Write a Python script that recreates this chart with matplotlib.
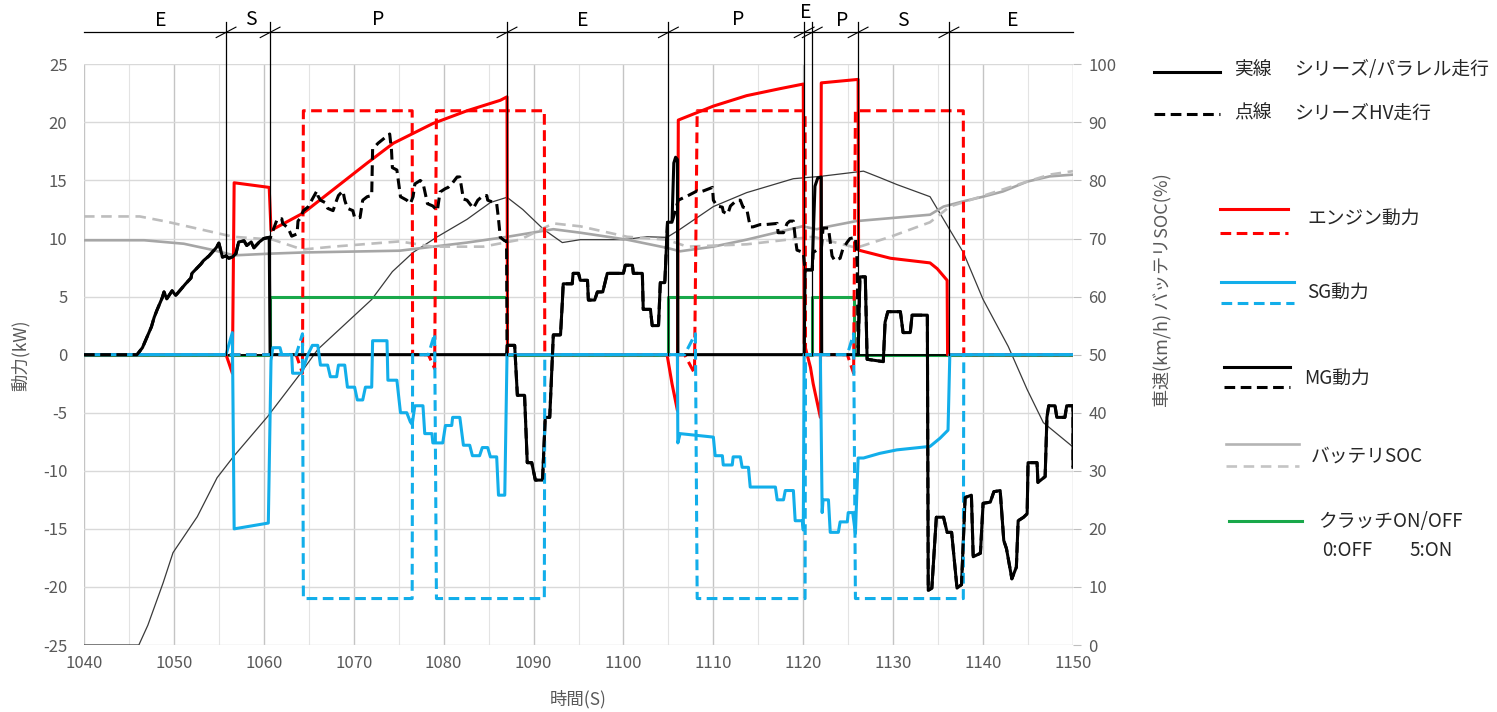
import matplotlib.pyplot as plt
from matplotlib.lines import Line2D

plt.rcParams['font.family'] = ['Noto Sans CJK JP', 'DejaVu Sans']
plt.rcParams['axes.unicode_minus'] = False

# ---- data (time in s, power in kW, speed km/h, SOC %) ----
eng_sp_t = [1040, 1055.8, 1056.5, 1056.7, 1060.6, 1060.8, 1064.4, 1071.5, 1074.4, 1078.8, 1082.6,
            1086.3, 1087.05, 1087.1, 1104.85, 1105.4, 1106.0, 1106.1, 1110.0, 1113.7, 1117.4,
            1120.0, 1120.1, 1120.8, 1121.1, 1121.9, 1122.0, 1126.1, 1126.15, 1129.7, 1134.1,
            1134.9, 1136.0, 1136.05, 1150]
eng_sp_kw = [0, 0, -1.6, 14.8, 14.4, 10.7, 12.2, 16.5, 18.2, 19.9, 21.0,
             21.9, 22.2, 0, 0, -2.5, -4.8, 20.2, 21.4, 22.3, 22.9,
             23.3, 1.0, -1.1, -2.5, -5.4, 23.4, 23.7, 9.0, 8.3, 7.9,
             7.4, 6.4, 0, 0]

eng_hv_t = [1040, 1063.6, 1064.3, 1064.4, 1076.5, 1076.55, 1078.3, 1079.0, 1079.2, 1091.2, 1091.25,
            1106.8, 1107.9, 1108.2, 1120.2, 1120.25, 1124.9, 1125.6, 1125.8, 1137.8, 1137.85, 1150]
eng_hv_kw = [0, 0, -1.6, 21, 21, 0, 0, -1.2, 21, 21, 0,
             0, -1.6, 21, 21, 0, 0, -1.6, 21, 21, 0, 0]

sg_sp_t = [1040, 1055.8, 1056.5, 1056.7, 1060.5, 1060.8, 1061.0, 1061.8, 1062.0, 1063.1, 1063.2,
           1064.2, 1064.9, 1065.4, 1066.0, 1066.3, 1067.1, 1067.4, 1068.1, 1068.3, 1069.0,
           1069.3, 1070.1, 1070.4, 1071.0, 1071.3, 1072.0, 1072.1, 1073.7, 1073.8, 1074.8,
           1075.2, 1075.9, 1076.3, 1076.5, 1076.8, 1077.7, 1077.9, 1078.7, 1078.8, 1079.9,
           1080.2, 1080.9, 1081.0, 1081.8, 1082.2, 1082.9, 1083.2, 1084.0, 1084.3, 1084.9,
           1085.2, 1085.9, 1086.1, 1086.8, 1087.05, 1106.0, 1106.05, 1106.3, 1110.0, 1110.2,
           1111.0, 1111.1, 1112.1, 1112.2, 1113.0, 1113.2, 1113.9, 1114.1, 1116.9, 1117.1,
           1117.8, 1118.0, 1118.9, 1119.1, 1119.9, 1120.0, 1120.1, 1121.9, 1122.1, 1122.2,
           1122.8, 1123.0, 1123.9, 1124.1, 1124.9, 1125.0, 1125.5, 1125.8, 1126.1, 1126.7,
           1128.5, 1130.4, 1134.1, 1135.2, 1136.1, 1136.3, 1150]
sg_sp_kw = [0, 0, 1.9, -15.0, -14.5, -0.5, 0.6, 0.6, 0, 0, -1.6,
            -1.6, 0, 0.8, 0.8, -0.9, -0.9, -1.9, -1.9, -0.9, -0.9,
            -2.8, -2.8, -3.9, -3.9, -2.8, -2.8, 1.2, 1.2, -2.2, -2.2,
            -5.0, -5.0, -5.8, -6.0, -4.4, -4.4, -6.8, -6.8, -7.6, -7.6,
            -6.1, -6.1, -5.4, -5.4, -7.8, -7.8, -8.7, -8.7, -8.0, -8.0,
            -8.8, -8.8, -12.1, -12.1, 0, 0, -7.6, -6.8, -7.1, -8.7,
            -8.7, -9.5, -9.5, -8.8, -8.8, -9.7, -9.7, -11.4, -11.4, -12.5,
            -12.5, -11.7, -11.7, -14.3, -14.3, -15.1, 0, 0, -13.6, -12.5,
            -12.5, -15.3, -15.3, -14.4, -14.4, -13.6, -13.6, -15.4, -8.9, -8.9,
            -8.5, -8.2, -7.9, -7.2, -6.5, 0, 0]

sg_hv_t = [1040, 1063.6, 1064.3, 1064.4, 1076.5, 1076.55, 1078.3, 1079.0, 1079.2, 1091.2, 1091.25,
           1106.8, 1108.0, 1108.2, 1120.2, 1120.25, 1124.9, 1125.6, 1125.8, 1137.8, 1137.85, 1150]
sg_hv_kw = [0, 0, 1.8, -21, -21, 0, 0, 1.8, -21, -21, 0,
            0, 1.8, -21, -21, 0, 0, 1.8, -21, -21, 0, 0]

# MG power: pieces shared by both runs, and pieces for each run
mg_ev1_t = [1040, 1045.9, 1046.5, 1047.0, 1047.5, 1047.8, 1048.1, 1048.7, 1048.9, 1049.2, 1049.8,
            1050.2, 1051.3, 1051.9, 1052.0, 1052.5, 1053.0, 1053.3, 1053.9, 1054.7, 1055.0,
            1055.2, 1055.4, 1055.8, 1056.1, 1056.5, 1056.9, 1057.2, 1057.8, 1058.1, 1058.6,
            1058.9, 1059.5, 1060.0, 1060.6]
mg_ev1_kw = [0, 0, 0.6, 1.5, 2.4, 3.2, 3.8, 4.9, 5.4, 4.8, 5.5,
             5.1, 6.1, 6.6, 7.0, 7.4, 7.8, 8.1, 8.5, 9.2, 9.6,
             9.0, 8.4, 8.5, 8.3, 8.4, 8.7, 9.7, 9.8, 9.4, 9.7,
             9.2, 9.7, 10.0, 10.1]
mg_par1_t = [1060.7, 1087.0]
mg_par1_kw = [0, 0]
mg_ser1_t = [1060.7, 1061.5, 1062.0, 1062.1, 1062.7, 1063.1, 1063.7, 1063.8, 1064.0, 1064.4, 1064.9,
             1065.4, 1065.9, 1066.0, 1066.3, 1066.8, 1067.1, 1067.7, 1068.1, 1068.3, 1068.8,
             1069.0, 1069.3, 1069.9, 1070.1, 1070.7, 1071.0, 1071.5, 1072.0, 1072.1, 1072.7,
             1073.5, 1074.0, 1074.2, 1074.3, 1074.8, 1075.2, 1075.9, 1076.3, 1076.6, 1076.8,
             1077.4, 1077.7, 1078.2, 1078.8, 1079.3, 1079.6, 1080.2, 1080.5, 1081.0, 1081.5,
             1081.8, 1082.2, 1082.6, 1082.9, 1083.3, 1083.8, 1084.4, 1084.8, 1084.9, 1085.9,
             1086.1, 1086.3, 1086.8, 1087.0]
mg_ser1_kw = [10.0, 11.7, 11.7, 11.3, 10.9, 10.2, 10.4, 11.5, 11.7, 12.4, 12.7,
              13.4, 14.1, 13.7, 13.3, 13.1, 12.6, 12.4, 13.3, 13.7, 14.1,
              13.3, 12.6, 12.4, 11.8, 11.8, 13.3, 13.6, 13.7, 17.7, 18.2,
              18.7, 19.0, 17.6, 16.1, 15.9, 13.6, 13.3, 13.0, 13.6, 14.7,
              15.0, 14.8, 13.0, 12.8, 12.4, 14.0, 14.3, 14.4, 14.8, 15.3,
              15.3, 13.4, 13.3, 13.0, 12.6, 13.3, 13.7, 13.7, 13.3, 13.0,
              11.7, 10.1, 9.8, 9.8]
mg_ev2_t = [1087.05, 1087.9, 1088.2, 1089.0, 1089.3, 1089.8, 1090.2, 1091.0, 1091.3, 1091.8, 1092.1,
            1092.2, 1093.0, 1093.2, 1093.3, 1094.3, 1094.4, 1095.0, 1095.2, 1096.0, 1096.1,
            1096.8, 1097.1, 1097.7, 1098.2, 1100.0, 1100.2, 1101.0, 1101.1, 1102.1, 1102.2,
            1103.0, 1103.2, 1103.9, 1104.1, 1104.6, 1104.9, 1105.4]
mg_ev2_kw = [0.8, 0.8, -3.5, -3.5, -9.3, -9.3, -10.8, -10.8, -5.4, -5.4, 0,
             1.7, 1.7, 4.5, 6.1, 6.1, 7.0, 7.0, 6.4, 6.4, 4.7,
             4.7, 5.4, 5.4, 7.0, 7.0, 7.7, 7.7, 7.0, 7.0, 3.9,
             3.9, 2.5, 2.5, 6.2, 6.2, 11.4, 11.4]
mg_par2_t = [1105.5, 1105.6, 1105.8, 1106.0, 1106.05, 1120.1]
mg_par2_kw = [14.0, 16.5, 17.0, 16.8, 0, 0]
mg_ser2_t = [1106.1, 1107.2, 1108.2, 1108.5, 1108.9, 1109.9, 1110.0, 1110.4, 1111.0, 1111.1, 1111.6,
             1111.9, 1112.6, 1113.0, 1113.3, 1113.7, 1114.1, 1114.4, 1115.2, 1115.8, 1117.1,
             1117.2, 1117.8, 1118.2, 1118.5, 1118.9, 1119.1, 1119.3, 1120.0]
mg_ser2_kw = [13.3, 13.7, 14.1, 14.0, 14.1, 14.4, 13.3, 12.8, 12.7, 12.3, 12.1,
              12.8, 13.3, 13.3, 12.7, 12.6, 11.0, 11.0, 11.2, 11.2, 11.3,
              10.5, 10.5, 11.3, 11.5, 11.5, 10.1, 9.0, 8.8]
mg_ev3_t = [1120.2, 1121.0]
mg_ev3_kw = [7.3, 7.3]
mg_par3_t = [1121.1, 1121.3, 1121.6, 1122.0, 1122.05, 1126.0]
mg_par3_kw = [10.0, 14.5, 15.2, 15.3, 0, 0]
mg_ser3_t = [1121.1, 1121.5, 1122.0, 1122.2, 1122.8, 1123.2, 1123.5, 1124.1, 1124.4, 1124.9, 1125.2,
             1125.8, 1126.0]
mg_ser3_kw = [8.8, 9.0, 9.0, 10.9, 10.9, 8.5, 8.1, 8.3, 9.1, 9.7, 10.0,
              10.1, 8.0]
mg_ev4_t = [1126.1, 1126.3, 1126.9, 1127.1, 1128.9, 1129.1, 1129.4, 1130.8, 1131.1, 1131.9, 1132.1,
            1133.8, 1133.9, 1134.3, 1134.8, 1135.6, 1136.0, 1136.5, 1137.1, 1137.6, 1138.0,
            1138.7, 1138.9, 1139.7, 1140.0, 1140.8, 1141.2, 1141.9, 1142.3, 1142.6, 1143.2,
            1143.7, 1143.9, 1144.5, 1144.9, 1145.0, 1146.0, 1146.1, 1146.9, 1147.1, 1147.3,
            1148.0, 1148.2, 1149.1, 1149.3, 1150, 1150]
mg_ev4_kw = [0, 6.7, 6.7, -0.4, -0.6, 2.8, 3.7, 3.7, 1.9, 1.9, 3.4,
             3.4, -20.3, -20.1, -14.0, -14.0, -15.3, -15.3, -20.1, -19.8, -12.3,
             -12.1, -17.4, -17.1, -12.8, -12.7, -11.8, -11.7, -16.0, -16.7, -19.3,
             -18.3, -14.3, -14.0, -13.7, -9.3, -9.3, -11.0, -10.5, -5.4, -4.4,
             -4.4, -5.4, -5.4, -4.4, -4.4, -9.7]

clutch_t = [1040, 1060.7, 1060.7, 1087.05, 1087.05, 1105.0, 1105.0, 1120.1, 1120.1, 1121.0, 1121.0,
            1125.6, 1125.6, 1150]
clutch_kw = [0, 0, 5, 5, 0, 0, 5, 5, 0, 0, 5, 5, 0, 0]

speed_t = [1040, 1046.1, 1047.1, 1048.8, 1049.9, 1052.6, 1054.8, 1056.6, 1060.4, 1064.0, 1066.0,
           1072.0, 1074.3, 1076.6, 1079.3, 1082.6, 1085.2, 1087.05, 1088.8, 1091.1, 1093.2,
           1095.2, 1100.0, 1102.6, 1104.85, 1106.3, 1110.0, 1113.7, 1118.9, 1121.9, 1126.7,
           1128.5, 1130.4, 1134.1, 1137.8, 1140.0, 1142.8, 1144.9, 1146.7, 1150]
speed_kmh = [0, 0, 3.4, 10.7, 15.9, 22.1, 28.8, 32.4, 39.3, 46.6, 50.9,
             59.5, 64.3, 67.6, 70.3, 73.3, 76.2, 77.1, 75.0, 71.6, 69.3,
             69.8, 69.8, 70.3, 70.2, 71.6, 75.5, 77.9, 80.3, 80.7, 81.6,
             80.5, 79.3, 77.2, 67.6, 59.5, 51.4, 44.0, 38.3, 34.1]

soc_sp_t = [1040, 1046.7, 1051.1, 1054.1, 1056.7, 1060.8, 1064.5, 1075.1, 1082.6, 1087.1, 1092.2,
            1095.2, 1100.4, 1104.8, 1106.3, 1110.0, 1113.7, 1119.9, 1121.5, 1122.9, 1125.9,
            1130.4, 1134.1, 1135.6, 1137.8, 1140.0, 1142.2, 1144.9, 1147.4, 1150]
soc_sp = [69.7, 69.7, 69.1, 68.1, 67.1, 67.4, 67.6, 67.9, 69.3, 70.3, 71.6,
          71.0, 69.8, 68.4, 67.8, 68.6, 69.8, 72.1, 71.6, 72.1, 73.0,
          73.6, 74.1, 75.5, 76.4, 77.2, 78.1, 79.8, 80.7, 81.0]
soc_hv_t = [1040, 1046.2, 1049.2, 1052.9, 1056.6, 1061.0, 1064.3, 1067.7, 1075.1, 1078.8, 1084.4,
            1088.5, 1092.2, 1095.2, 1100.4, 1104.8, 1107.1, 1113.7, 1121.1, 1125.9, 1129.7,
            1134.1, 1136.3, 1139.7, 1144.9, 1147.4, 1150]
soc_hv = [73.8, 73.8, 72.9, 71.6, 70.3, 69.8, 68.1, 68.6, 69.5, 68.6, 68.6,
          69.8, 72.6, 72.1, 70.3, 69.8, 68.6, 69.0, 70.3, 68.4, 70.3,
          72.8, 75.5, 77.2, 79.8, 81.0, 81.6]

phase_edges = [1055.8, 1060.7, 1087.05, 1105.0, 1120.1, 1121.0, 1126.1, 1136.2]
phase_labels = ['E', 'S', 'P', 'E', 'P', 'E', 'P', 'S', 'E']
phase_label_t = [1048.5, 1058.6, 1072.7, 1095.5, 1112.8, 1120.3, 1124.3, 1131.1, 1143.3]
phase_label_kw = [28.8, 28.9, 28.9, 28.8, 28.9, 29.5, 28.8, 28.8, 28.8]

mg_sp_t = mg_ev1_t + mg_par1_t + mg_ev2_t + mg_par2_t + mg_ev3_t + mg_par3_t + mg_ev4_t
mg_sp_kw = mg_ev1_kw + mg_par1_kw + mg_ev2_kw + mg_par2_kw + mg_ev3_kw + mg_par3_kw + mg_ev4_kw
mg_hv_t = mg_ev1_t + mg_ser1_t + mg_ev2_t + mg_ser2_t + mg_ev3_t + mg_ser3_t + mg_ev4_t
mg_hv_kw = mg_ev1_kw + mg_ser1_kw + mg_ev2_kw + mg_ser2_kw + mg_ev3_kw + mg_ser3_kw + mg_ev4_kw

RED = '#ff0000'
BLUE = '#12aeea'
GREEN = '#19a84a'
GRAY = '#a6a6a6'
LGRAY = '#bdbdbd'
TXT = '#595959'
DASH = (3.5, 1.8)

W, H = 1497, 712
fig = plt.figure(figsize=(W / 100, H / 100), dpi=100)
ax = fig.add_axes([84 / W, 1 - 645 / H, (1073 - 84) / W, (645 - 64.3) / H])
ax2 = ax.twinx()
ax.set_zorder(ax2.get_zorder() + 1)
ax.patch.set_visible(False)

# grid (on the back axes)
for x in range(1040, 1151, 5):
    major = (x % 10 == 0)
    ax2.axvline(x, color='#c4c4c4' if major else '#e3e3e3', lw=1.0 if major else 0.8, zorder=0)
for y in range(0, 101, 10):
    ax2.axhline(y, color='#d9d9d9', lw=1.0, zorder=0)

# right axis series
ax2.plot(speed_t, speed_kmh, color='#3a3a3a', lw=0.9, zorder=2)
ax2.plot(soc_sp_t, soc_sp, color=GRAY, lw=1.9, zorder=2)
ax2.plot(soc_hv_t, soc_hv, color=LGRAY, lw=1.9, dashes=(4, 2.5), zorder=2)
ax2.set_ylim(0, 100)
ax2.set_yticks(range(0, 101, 10))

# left axis series
ax.plot(clutch_t, clutch_kw, color=GREEN, lw=2.2, zorder=2.5)
ax.axhline(0, color='black', lw=1.3, zorder=2.8)
ax.plot(eng_sp_t, eng_sp_kw, color=RED, lw=2.2, zorder=3)
ax.plot(eng_hv_t, eng_hv_kw, color=RED, lw=2.2, dashes=DASH, zorder=3.1)
ax.plot(mg_sp_t, mg_sp_kw, color='black', lw=2.2, zorder=3.2)
ax.plot(sg_sp_t, sg_sp_kw, color=BLUE, lw=2.2, zorder=3.5)
ax.plot(sg_hv_t, sg_hv_kw, color=BLUE, lw=2.2, dashes=DASH, zorder=3.6)
ax.plot(mg_hv_t, mg_hv_kw, color='black', lw=2.2, dashes=DASH, zorder=3.8)

ax.set_xlim(1040, 1150)
ax.set_ylim(-25, 25)
ax.set_xticks(range(1040, 1151, 10))
ax.set_yticks(range(-25, 26, 5))

for a in (ax, ax2):
    for s in a.spines.values():
        s.set_visible(False)
ax.tick_params(axis='both', length=0, labelsize=12, labelcolor=TXT)
ax.tick_params(axis='y', pad=12)
ax.tick_params(axis='x', pad=7)
ax2.tick_params(axis='y', length=6, color='#bfbfbf', labelsize=12, labelcolor=TXT, pad=5)

# phase annotation above the plot
ax.plot([1040, 1150], [27.75, 27.75], color='black', lw=0.9, clip_on=False)
for t in phase_edges:
    ax.plot([t, t], [28.6, 0], color='black', lw=0.9, clip_on=False, zorder=4)
    ax.plot([t - 1.1, t + 1.1], [27.3, 28.2], color='black', lw=0.8, clip_on=False)
for lab, t, y in zip(phase_labels, phase_label_t, phase_label_kw):
    ax.text(t, y, lab, ha='center', va='center', fontsize=14, color='black', clip_on=False)

# axis titles
fig.text(20 / W, 1 - 355 / H, '動力(kW)', rotation=90, ha='center', va='center', fontsize=12.5, color=TXT)
fig.text(1162 / W, 1 - 290 / H, '車速(km/h) バッテリSOC(%)', rotation=90, ha='center', va='center',
         fontsize=13, color=TXT)
fig.text(578 / W, 1 - 699 / H, '時間(S)', ha='center', va='center', fontsize=12.5, color=TXT)

# hand-drawn legend at right
def fx(px):
    return px / W


def fy(py):
    return 1 - py / H


legend_lines = [
    (1154, 1220, 72, 'black', None, 2.2),
    (1154, 1220, 114, 'black', DASH, 2.2),
    (1220, 1288, 209, RED, None, 2.2),
    (1220, 1288, 233, RED, DASH, 2.2),
    (1221, 1294, 282, BLUE, None, 2.2),
    (1221, 1294, 303, BLUE, DASH, 2.2),
    (1224, 1290, 367, 'black', None, 2.2),
    (1224, 1290, 387, 'black', DASH, 2.2),
    (1226, 1299, 444, '#b4b4b4', None, 1.9),
    (1226, 1299, 466, '#c4c4c4', (4, 2.5), 1.9),
    (1229, 1302, 521, GREEN, None, 2.2),
]
for x0, x1, y, c, d, lw in legend_lines:
    ln = Line2D([fx(x0), fx(x1)], [fy(y), fy(y)], transform=fig.transFigure, color=c, lw=lw)
    if d:
        ln.set_dashes(d)
    fig.add_artist(ln)

legend_texts = [
    (1234, 70, '実線'), (1294, 70, 'シリーズ/パラレル走行'),
    (1234, 113, '点線'), (1294, 113, 'シリーズHV走行'),
    (1307, 218, 'エンジン動力'), (1307, 292, 'SG動力'),
    (1304, 378, 'MG動力'), (1311, 456, 'バッテリSOC'),
    (1318, 522, 'クラッチON/OFF'), (1322, 551, '0:OFF'), (1409, 551, '5:ON'),
]
for x, y, s in legend_texts:
    fig.text(fx(x), fy(y), s, ha='left', va='center', fontsize=13.5, color='#262626')

fig.savefig('out.png', dpi=100)
